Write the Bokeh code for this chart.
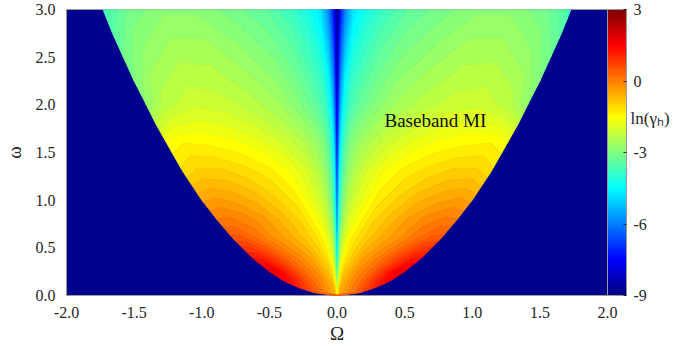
import numpy as np
from bokeh.plotting import figure
from bokeh.plotting.contour import contour_data
from bokeh.models import (LinearColorMapper, ColorBar, FixedTicker, LinearAxis, Label,
                          Range1d, PrintfTickFormatter, ColumnDataSource)
from bokeh.embed import file_html
from bokeh.resources import INLINE

# ---- data ----
# rows of constant omega, boundary half-width of the MI band at each row,
# columns given as fraction of that half-width (mirrored for negative Omega)
omega_rows = [0.0, 0.03, 0.08, 0.15, 0.25, 0.4, 0.6, 0.8, 1.0, 1.3, 1.6, 1.8, 2.0, 2.25, 2.5, 2.75, 3.0]
boundary_Omega = [0.0, 0.17, 0.28, 0.39, 0.50, 0.63, 0.77, 0.89, 1.00, 1.14, 1.26, 1.34, 1.41, 1.50, 1.58, 1.66, 1.73]
frac_cols = [0.0, 0.004, 0.01, 0.02, 0.04, 0.07, 0.12, 0.2, 0.3, 0.45, 0.6, 0.75, 0.9, 1.0]
ln_gamma = [
    [-12, -5.0, -3.7, -2.4, -1.6, -1.1, -0.8, -0.6, -0.45, -0.25, -0.1, 0.1, 0.3, 0.4],
    [-12, -5.0, -3.6, -2.3, -1.5, -1.0, -0.7, -0.5, -0.35, -0.15, 0.0, 0.2, 0.4, 0.5],
    [-12, -5.0, -3.6, -2.2, -1.3, -0.8, -0.5, -0.4, -0.25, 0.1, 0.35, 0.65, 0.9, 1.0],
    [-12, -5.3, -3.9, -2.5, -1.5, -1.0, -0.65, -0.4, -0.1, 0.2, 0.6, 1.0, 1.4, 1.45],
    [-12, -5.6, -4.2, -2.8, -1.8, -1.2, -0.85, -0.55, -0.2, 0.15, 0.6, 1.15, 1.7, 1.7],
    [-12, -6.0, -4.6, -3.2, -2.2, -1.6, -1.2, -0.85, -0.45, -0.1, 0.3, 0.75, 1.15, 1.2],
    [-12, -6.3, -4.9, -3.5, -2.55, -1.95, -1.5, -1.15, -0.85, -0.5, -0.2, 0.15, 0.45, 0.5],
    [-12, -6.6, -5.2, -3.9, -2.9, -2.25, -1.8, -1.45, -1.05, -0.7, -0.35, -0.1, 0.05, 0.0],
    [-12, -6.9, -5.5, -4.1, -3.1, -2.5, -2.05, -1.7, -1.3, -0.95, -0.65, -0.45, -0.35, -0.45],
    [-12, -7.2, -5.8, -4.4, -3.4, -2.8, -2.35, -1.95, -1.6, -1.3, -1.1, -0.95, -0.95, -1.15],
    [-12, -7.5, -6.2, -4.8, -3.7, -3.1, -2.7, -2.35, -2.05, -1.75, -1.55, -1.45, -1.4, -1.55],
    [-12, -7.8, -6.5, -5.1, -4.0, -3.4, -3.0, -2.65, -2.35, -2.05, -1.85, -1.75, -1.85, -2.2],
    [-12, -8.0, -6.8, -5.4, -4.3, -3.7, -3.3, -2.95, -2.6, -2.3, -2.1, -2.05, -2.3, -2.8],
    [-12, -8.2, -7.1, -5.8, -4.6, -3.9, -3.55, -3.15, -2.8, -2.5, -2.3, -2.25, -2.5, -3.0],
    [-12, -8.4, -7.4, -6.2, -5.0, -4.2, -3.8, -3.35, -3.0, -2.7, -2.45, -2.45, -2.75, -3.2],
    [-12, -8.6, -7.7, -6.6, -5.4, -4.5, -4.0, -3.55, -3.2, -2.9, -2.65, -2.65, -2.95, -3.45],
    [-12, -8.8, -8.0, -7.0, -5.8, -4.8, -4.3, -3.8, -3.4, -3.1, -2.85, -2.85, -3.2, -3.7],
]
x_ticks = [-2.0, -1.5, -1.0, -0.5, 0.0, 0.5, 1.0, 1.5, 2.0]
y_ticks = [0.0, 0.5, 1.0, 1.5, 2.0, 2.5, 3.0]
cbar_ticks = [-9, -6, -3, 0, 3]

# ---- build curvilinear grid (mirror about Omega = 0) ----
frac = np.array(frac_cols)
frac_full = np.concatenate([-frac[::-1], frac[1:]])
Z_half = np.array(ln_gamma, dtype=float)
Z = np.concatenate([Z_half[:, ::-1], Z_half[:, 1:]], axis=1)
X = np.array(boundary_Omega)[:, None] * frac_full[None, :]
Y = np.repeat(np.array(omega_rows)[:, None], len(frac_full), axis=1)


def jet(t):
    t = np.clip(t, 0, 1)
    r = np.clip(1.5 - abs(4 * t - 3), 0, 1)
    g = np.clip(1.5 - abs(4 * t - 2), 0, 1)
    b = np.clip(1.5 - abs(4 * t - 1), 0, 1)
    return "#%02x%02x%02x" % (int(round(r * 255)), int(round(g * 255)), int(round(b * 255)))


VMIN, VMAX = -9.0, 3.0
NAVY = "#00008f"
palette = [jet(i / 255) for i in range(256)]
levels = list(np.linspace(-12, 3, 76))

cd = contour_data(X, Y, Z, levels, want_fill=True, want_line=False)
fd = cd.fill_data
colors = []
for lo, hi in zip(fd.lower_levels, fd.upper_levels):
    mid = 0.5 * (lo + hi)
    colors.append(NAVY if mid < VMIN else jet((mid - VMIN) / (VMAX - VMIN)))
src = ColumnDataSource(dict(xs=list(fd.xs), ys=list(fd.ys), color=colors))

SERIF = "Liberation Serif"
TXT = "#262626"

p = figure(frame_width=541, frame_height=286, output_backend="svg", toolbar_location=None,
           x_range=Range1d(-2, 2), y_range=Range1d(0, 3),
           min_border_left=62, min_border_right=0, min_border_top=9, min_border_bottom=51)
p.background_fill_color = NAVY
p.border_fill_color = "white"
p.grid.visible = False
p.outline_line_color = "#999999"
p.outline_line_width = 1

p.multi_polygons(xs="xs", ys="ys", fill_color="color", line_color="color",
                 line_width=0.8, source=src)

p.axis.axis_line_color = None
p.axis.major_tick_line_color = None
p.axis.minor_tick_line_color = None
p.axis.major_label_text_font = SERIF
p.axis.major_label_text_font_size = "16px"
p.axis.major_label_text_color = TXT
p.axis.axis_label_text_font = SERIF
p.axis.axis_label_text_font_size = "19px"
p.axis.axis_label_text_font_style = "normal"
p.axis.axis_label_text_color = TXT
p.axis.formatter = PrintfTickFormatter(format="%.1f")
p.xaxis.ticker = FixedTicker(ticks=x_ticks)
p.yaxis.ticker = FixedTicker(ticks=y_ticks)
p.xaxis.axis_label = "Ω"
p.yaxis.axis_label = "ω"
p.xaxis.major_label_standoff = 5
p.yaxis.major_label_standoff = 5
p.xaxis.axis_label_standoff = 2
p.yaxis.axis_label_standoff = 8

mapper = LinearColorMapper(palette=palette, low=VMIN, high=VMAX, low_color=NAVY)
cb = ColorBar(color_mapper=mapper, ticker=FixedTicker(ticks=cbar_ticks),
              formatter=PrintfTickFormatter(format="%d"), width=19,
              height=286, padding=0, margin=3, location=(0, 0),
              bar_line_color="#999999", major_tick_line_color=TXT, major_tick_in=3,
              major_tick_out=0, minor_tick_line_color=None, label_standoff=7,
              major_label_text_font=SERIF, major_label_text_font_size="16px",
              major_label_text_color=TXT, background_fill_color=None,
              border_line_color=None)
p.add_layout(cb, "right")

# colour-bar caption, carried by a bare axis on the right so it can sit outside the frame;
# trailing blank lines lift the visible first line to sit between the 0 and -3 ticks
cap = LinearAxis(ticker=FixedTicker(ticks=[]),
                 axis_line_color=None, major_tick_line_color=None,
                 minor_tick_line_color=None, major_label_standoff=0,
                 major_tick_in=0, major_tick_out=0,
                 axis_label="ln(γₕ)\n\u00a0\n\u00a0\n\u00a0",
                 axis_label_orientation="horizontal",
                 axis_label_standoff=-19, axis_label_text_font=SERIF,
                 axis_label_text_font_size="17px", axis_label_text_font_style="normal",
                 axis_label_text_color=TXT)
p.add_layout(cap, "right")

p.add_layout(Label(x=0.351, y=1.836, text="Baseband MI", text_font=SERIF,
                   text_font_size="19px", text_color="#111111", text_baseline="alphabetic"))

open("out.html", "w").write(file_html(p, INLINE))
